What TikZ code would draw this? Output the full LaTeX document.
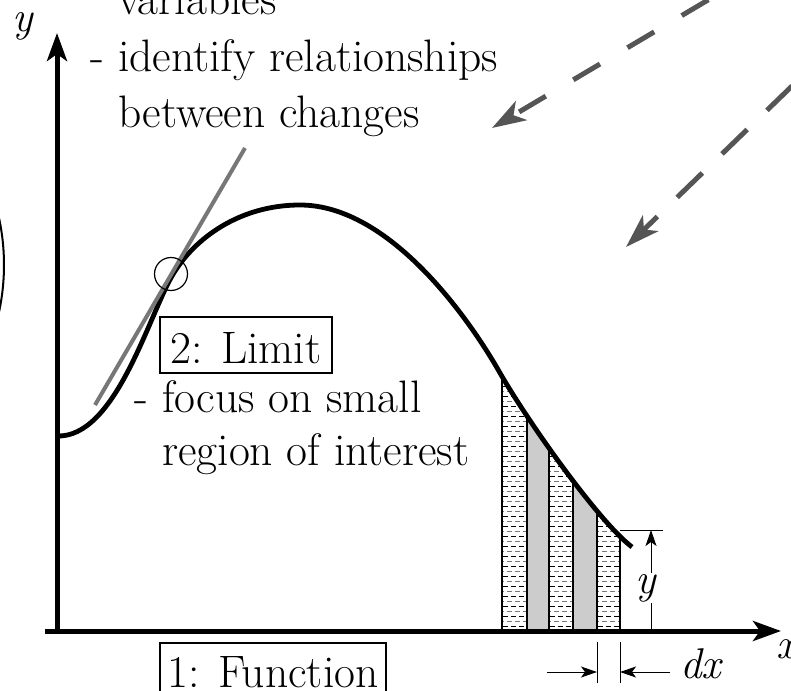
\documentclass[tikz,border=0pt]{standalone}
\usetikzlibrary{arrows.meta}
\definecolor{tangray}{HTML}{777777}
\definecolor{dashgray}{HTML}{555555}
\definecolor{stripgray}{HTML}{CCCCCC}
\begin{document}
\begin{tikzpicture}[x=1pt,y=-1pt,
  txt/.style={font=\fontsize{45.5}{54}\selectfont, inner sep=0pt, anchor=base west},
  itx/.style={font=\fontsize{43}{50}\selectfont\itshape, inner sep=0pt},
  boxlabel/.style={draw, line width=1.5pt, inner sep=0pt, font=\fontsize{45.5}{54}\selectfont, text depth=0pt},
  axis/.style={line width=5pt, -{Stealth[length=28pt, width=20pt, inset=7pt]}},
  graph/.style={line width=4.8pt},
  tangent/.style={line width=4pt, tangray},
  bigarrow/.style={line width=5pt, dashgray, -{Stealth[length=34pt, width=22pt, inset=9pt]}},
  dimline/.style={line width=1pt},
  dimarrow/.style={line width=1pt, -{Stealth[length=16pt, width=11pt, inset=4pt]}},
  stripline/.style={line width=1.2pt},
  hatchblack/.style={line width=0.9pt, black, dash pattern=on 5pt off 3pt},
  hatchgray/.style={line width=0.9pt, tangray, dash pattern=on 5pt off 3pt, dash phase=4pt}
]
\useasboundingbox (0,0) rectangle (791,690);
\clip (0,0) rectangle (791,690);

% left partial ellipse
\draw[line width=2pt] (-218,265) circle (222);

% curve coordinates
\coordinate (c0) at (57,436);
\coordinate (c1) at (172,276);
\coordinate (c2) at (300,205);
\coordinate (c3) at (500,373);
\coordinate (c4) at (632,547);
\def\curvepath{(c0) .. controls (115,438) and (148,318) .. (c1)
  .. controls (194,238) and (240,205) .. (c2)
  .. controls (390,205) and (470,320) .. (c3)
  .. controls (530,425) and (600,523) .. (c4)}

% strips under the curve
\begin{scope}
  \clip \curvepath -- (632,631) -- (57,631) -- cycle;
  \fill[stripgray] (527,631) rectangle (549,300);
  \fill[stripgray] (573,631) rectangle (597,300);
  \foreach \xa/\xb in {502/527, 549/573, 597/620} {
    \begin{scope}
      \clip (\xa,631) rectangle (\xb,300);
      \foreach \i in {0,2,...,64} {
        \draw[hatchblack] (\xa+1,626-5*\i) -- (\xb,626-5*\i);
      }
      \foreach \i in {1,3,...,65} {
        \draw[hatchgray] (\xa+1,626-5*\i) -- (\xb,626-5*\i);
      }
    \end{scope}
  }
  \foreach \xx in {502,527,549,573,597,620} {
    \draw[stripline] (\xx,631) -- (\xx,300);
  }
\end{scope}

% axes
\coordinate (origin) at (57,631);
\coordinate (ytip) at (57,33);
\coordinate (xstart) at (45,631);
\coordinate (xtip) at (781,631);
\draw[axis] (57,633) -- (ytip);
\draw[axis] (xstart) -- (xtip);
\node[itx, anchor=base west] (ylab) at (12,32) {y};
\node[itx, anchor=base west] (xlab) at (776,658) {x};

% function curve
\draw[graph] \curvepath;

% tangent and circle
\coordinate (t0) at (95,405);
\coordinate (t1) at (245,148);
\draw[tangent] (t0) -- (t1);
\draw[line width=1.2pt] (171,274) circle (16.5);

% dimension y
\coordinate (ytop) at (651,530);
\coordinate (ybot) at (651,631);
\draw[dimline] (620,530) -- (663,530);
\draw[dimarrow] (ybot) -- (ytop);
\node[itx, fill=white, inner sep=1pt] (ydim) at (646,588) {y};

% dimension dx
\coordinate (dxl) at (597,672);
\coordinate (dxr) at (620,672);
\draw[dimline] (597,642) -- (597,683);
\draw[dimline] (620,642) -- (620,683);
\draw[dimarrow] (547,672) -- (dxl);
\draw[dimarrow] (670,672) -- (dxr);
\node[itx, anchor=base west] (dxlab) at (680,678) {dx};

% text
\node[txt] (t-var) at (118,15) {variables};
\node[txt] (t-id) at (118,72) {\llap{- }identify relationships};
\node[txt] (t-bw) at (118,128) {between changes};
\node[txt] (t-fo) at (162,412) {\llap{- }focus on small};
\node[txt] (t-re) at (162,465) {region of interest};

\node[boxlabel, minimum width=172pt, minimum height=56pt, text height=36pt] (limit) at (246,345) {2: Limit};
\node[boxlabel, minimum width=226pt, minimum height=56pt, text height=32pt] (func) at (273,671) {1: Function};

% dashed arrows
\coordinate (a1s) at (816,-64);
\coordinate (a1e) at (492,128);
\coordinate (a2s) at (840.5,39);
\coordinate (a2e) at (626,247);
\draw[bigarrow, dash pattern=on 31pt off 32pt, dash phase=0.9pt] (a1s) -- (a1e);
\draw[bigarrow, dash pattern=on 35pt off 27.5pt, dash phase=57.5pt] (a2s) -- (a2e);
\end{tikzpicture}
\end{document}
